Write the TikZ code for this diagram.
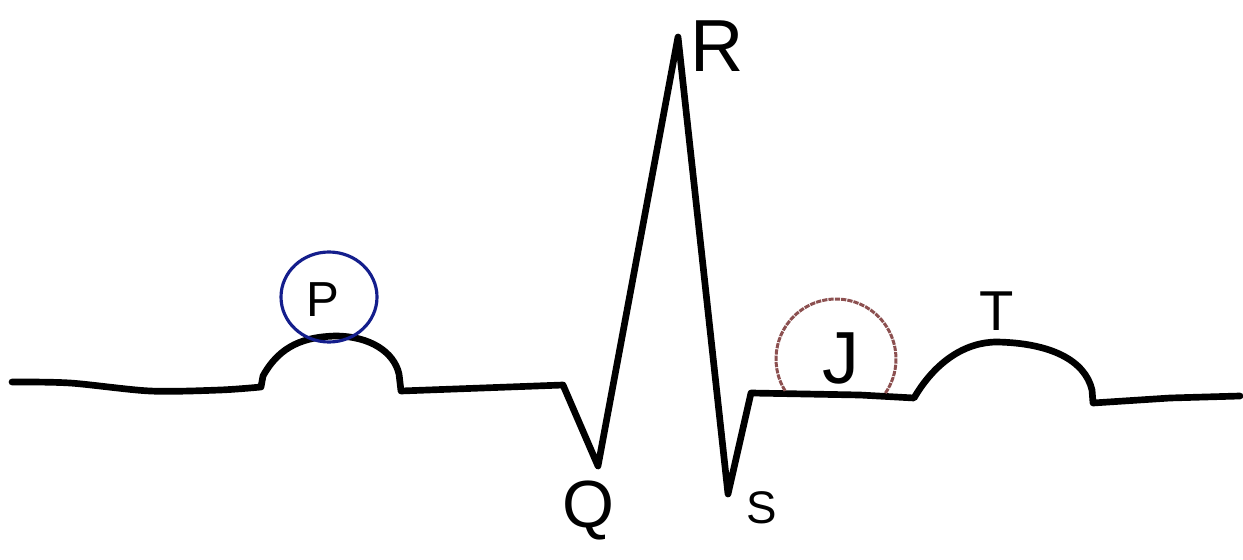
\documentclass[tikz,border=0pt]{standalone}
\usepackage{fontspec}
\setmainfont{Liberation Sans}
\definecolor{pblue}{RGB}{20,30,140}
\definecolor{jbrown}{RGB}{140,80,80}
\begin{document}
\begin{tikzpicture}[x=0.02cm,y=-0.02cm,
  ecg/.style={line width=3.8pt,line join=round,line cap=round,black},
  lab/.style={inner sep=0pt,anchor=center,text=black},
  pring/.style={draw=pblue,line width=1.8pt},
  jring/.style={draw=jbrown,line width=1.7pt,dash pattern=on 3pt off 0.6pt}]
\useasboundingbox (0,0) rectangle (1243,560);
% key points
\coordinate (q) at (598,466);
\coordinate (r) at (678,37);
\coordinate (s) at (728,494);
% trace
\draw[ecg] plot[smooth] coordinates {(12,382) (70,383) (150,391) (220,390) (261,387)}
  -- (263,376) .. controls (280,345) and (305,337) .. (335,336)
  .. controls (370,336) and (394,352) .. (399,374) -- (401,391)
  -- (563,385) -- (q) -- (r) -- (s) -- (751,393)
  -- (860,395) -- (914,398)
  .. controls (935,362) and (965,342) .. (997,342)
  .. controls (1050,343) and (1085,360) .. (1092,390) -- (1093,403)
  -- (1170,398) -- (1240,396);
% rings
\draw[pring] (329,297) ellipse [x radius=48, y radius=45];
\draw[jring] (836,359) ++(148:60) arc[start angle=148,end angle=395,radius=60];
% labels
\node[lab,font=\fontsize{28}{28}\selectfont] (P) at (323,300) {P};
\node[lab,font=\fontsize{42}{42}\selectfont] (J) at (841,358) {J};
\node[lab,font=\fontsize{42}{42}\selectfont] (R) at (717,46) {R};
\node[lab,font=\fontsize{38}{38}\selectfont] (Q) at (588,510) {Q};
\node[lab,font=\fontsize{26}{26}\selectfont] (S) at (762,508) {S};
\node[lab,font=\fontsize{32}{32}\selectfont] (T) at (997,311) {T};
\end{tikzpicture}
\end{document}
